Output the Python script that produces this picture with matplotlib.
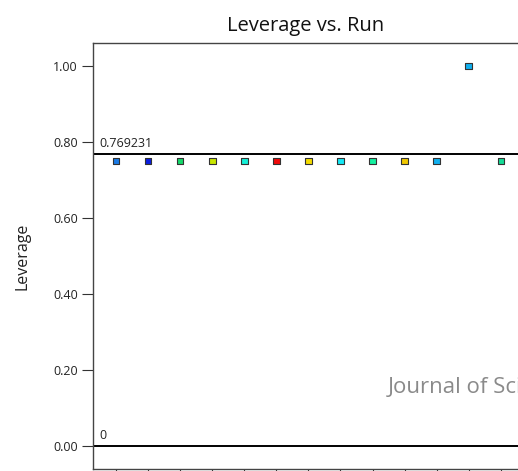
import matplotlib
matplotlib.use('Agg')
import matplotlib.pyplot as plt

plt.rcParams['font.family'] = ['Open Sans', 'DejaVu Sans']

# 数据
runs = [1, 2, 3, 4, 5, 6, 7, 8, 9, 10, 11, 12, 13]
leverage = [0.75, 0.75, 0.75, 0.75, 0.75, 0.75, 0.75, 0.75, 0.75, 0.75, 0.75, 1.00, 0.75]
point_colors = ['#1a7ae6', '#0a1ee0', '#14d96a', '#c8e600', '#14f0d8', '#f00a0a',
                '#f5dc00', '#14e8f5', '#14f0a0', '#f0c800', '#10b0f0', '#10b0f0', '#14dc96']
ref_lines = [0.769231, 0.0]
ref_labels = ['0.769231', '0']
yticks = [0.0, 0.2, 0.4, 0.6, 0.8, 1.0]

W, H = 518, 471
fig = plt.figure(figsize=(W / 100, H / 100), dpi=100)
# 轴的右边缘在图外（原图被裁剪）
left, right, top, bottom = 93, 520, 43, 469
ax = fig.add_axes([left / W, 1 - bottom / H, (right - left) / W, (bottom - top) / H])

for val, lab in zip(ref_lines, ref_labels):
    ax.axhline(val, color='black', lw=1.4, zorder=2)
    ax.text(0.47, val + 0.01, lab, fontsize=9, va='bottom', ha='left', color='#222222')

ax.scatter(runs, leverage, marker='s', s=22, c=point_colors,
           edgecolors='#333333', linewidths=0.8, zorder=3)

ax.set_xlim(0.28, 13.6)
ax.set_ylim(-0.06, 1.06)
ax.set_xticks(runs)
ax.set_xticklabels([])
ax.set_yticks(yticks)
ax.set_yticklabels([f'{v:.2f}' for v in yticks], fontsize=9, color='#222222')
ax.tick_params(axis='both', direction='out', length=8, width=0.8, color='#333333')
ax.tick_params(axis='y', pad=3)
for side in ['left', 'bottom', 'top', 'right']:
    ax.spines[side].set_color('#444444')
    ax.spines[side].set_linewidth(1.0)

ax.set_ylabel('Leverage', fontsize=11.5, labelpad=16, color='#222222')
fig.text(306 / W, 1 - 31 / H, 'Leverage vs. Run', fontsize=14.5, ha='center', va='baseline',
         color='#111111')

# 水印（原图在右边缘被裁掉）
fig.text(388 / W, 1 - 393 / H, 'Journal of Science', fontsize=16, color='#8a8a8a',
         ha='left', va='baseline')

fig.savefig('out.png', dpi=100)
